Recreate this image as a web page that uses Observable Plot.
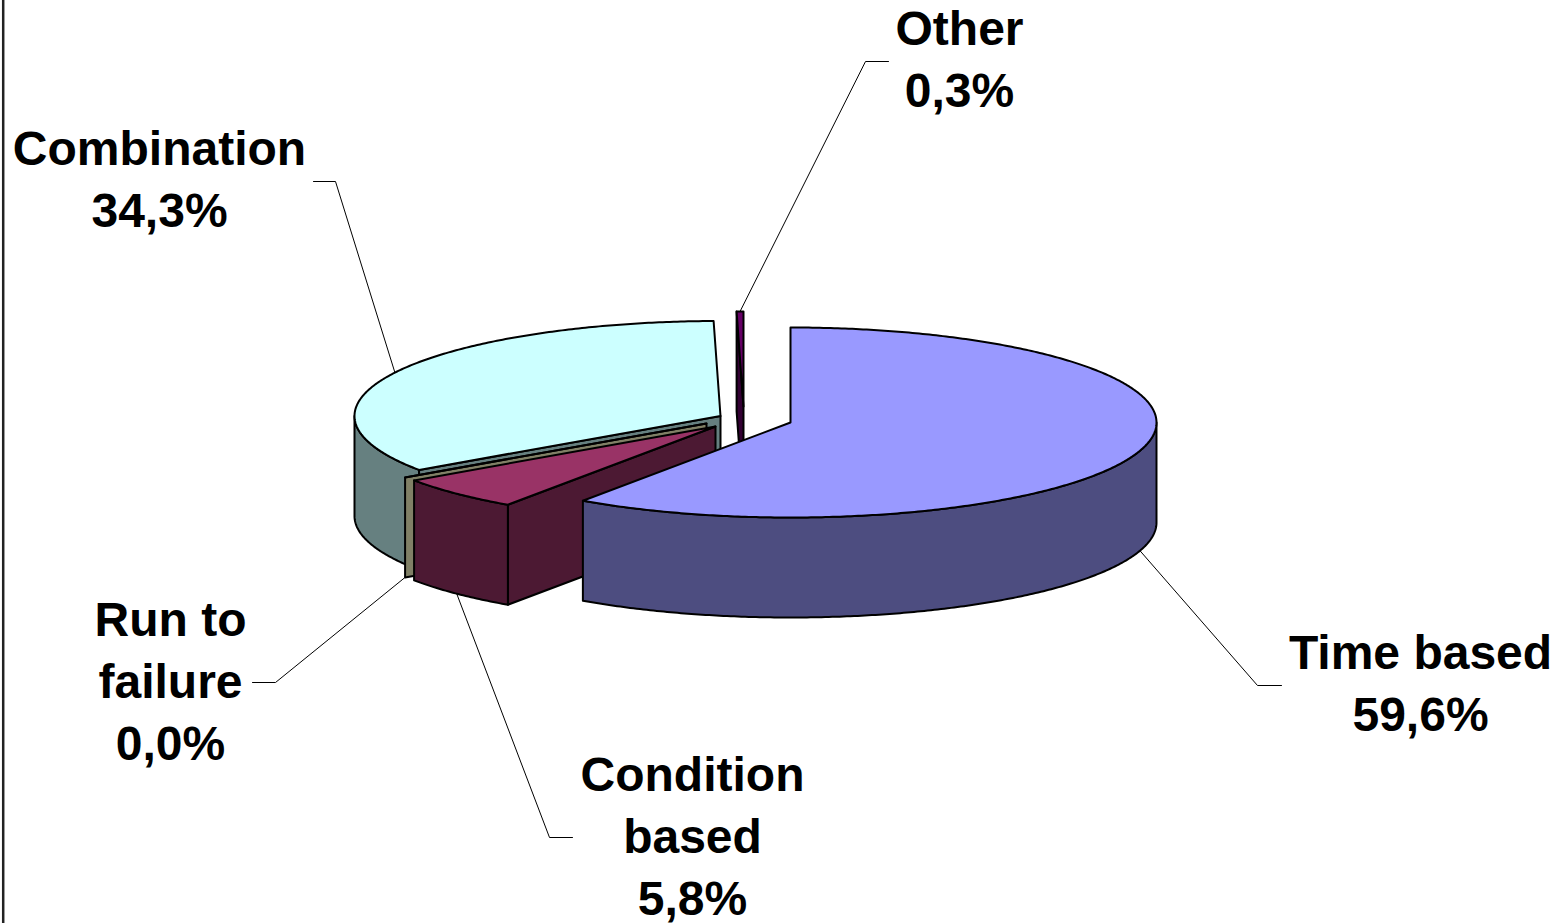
<!DOCTYPE html>
<html>
<head>
<meta charset="utf-8">
<script src="https://cdn.jsdelivr.net/npm/d3@7"></script>
<script src="https://cdn.jsdelivr.net/npm/@observablehq/plot@0.6"></script>
<style>
  html, body { margin: 0; padding: 0; background: #fff; }
  svg { display: block; }
</style>
</head>
<body>
<script>
// Maintenance strategy shares, clockwise from twelve o'clock
const names = ["Time based", "Condition based", "Run to failure", "Combination", "Other"];
const shares = [59.6, 5.8, 0.0, 34.3, 0.3];

// Line breaks used in the slice labels
const labelLines = [["Time based"], ["Condition", "based"], ["Run to", "failure"], ["Combination"], ["Other"]];

// Face colours per slice
const topColors = ["#9999ff", "#993366", "#ffffcc", "#ccffff", "#660066"];
const sideColors = ["#4d4d80", "#4c1933", "#808066", "#668080", "#330033"];

// Pie projection
const rx = 366, ry = 95, depth = 100;

// Centre of each pulled-out slice
const centers = [[790, 422], [715, 426], [706, 423], [720, 415.5], [743, 406]];

// Label centres and leader elbows
const labelAt = [[1420, 680], [692, 833], [170, 678], [159, 176], [959, 56]];
const elbows = [
  [[1257, 685], [1281, 685]],
  [[549, 837], [572, 837]],
  [[275, 682], [252, 682]],
  [[335, 181], [313, 181]],
  [[865, 61], [888, 61]]
];

const slices = [];
let running = 0;
shares.forEach((share, i) => {
  const a0 = (running / 100) * 2 * Math.PI;
  running += share;
  const a1 = (running / 100) * 2 * Math.PI;
  slices.push({i, a0, a1, cx: centers[i][0], cy: centers[i][1]});
});

const rim = (s, a, drop = 0) => ({
  x: s.cx + rx * Math.sin(a),
  y: s.cy - ry * Math.cos(a) + drop
});
const arc = (s, a0, a1, drop = 0) => {
  const n = Math.max(1, Math.ceil(Math.abs(a1 - a0) / 0.01));
  return d3.range(n + 1).map(k => rim(s, a0 + (a1 - a0) * k / n, drop));
};

const face = (points, fill) =>
  Plot.line(points, {x: "x", y: "y", fill, stroke: "#000", strokeWidth: 2, curve: "linear-closed", strokeLinejoin: "round"});

const topFace = s => face([{x: s.cx, y: s.cy}, ...arc(s, s.a0, s.a1)], topColors[s.i]);

// Outer wall: only the part of the rim that faces the viewer
const sideFace = s => {
  const from = Math.max(s.a0, Math.PI / 2), to = Math.min(s.a1, 3 * Math.PI / 2);
  if (to <= from) return null;
  return face([...arc(s, from, to), ...arc(s, to, from, depth)], sideColors[s.i]);
};

// Radial wall standing on the cut at angle a
const cutFace = (s, a) => {
  const p = rim(s, a);
  return face([
    {x: p.x, y: p.y},
    {x: s.cx, y: s.cy},
    {x: s.cx, y: s.cy + depth},
    {x: p.x, y: p.y + depth}
  ], sideColors[s.i]);
};

const [time, condition, runToFailure, combination, other] = slices;

// Where each leader touches its slice
const leaderStart = [
  rim(time, (time.a0 + time.a1) / 2, depth),
  rim(condition, (condition.a0 + condition.a1) / 2, depth),
  rim(runToFailure, runToFailure.a0, depth),
  rim(combination, (combination.a0 + combination.a1) / 2),
  rim(other, (other.a0 + other.a1) / 2)
];

const leaders = elbows.map((e, i) => [leaderStart[i], ...e.map(([x, y]) => ({x, y}))]);

const pct = v => v.toFixed(1).replace(".", ",") + "%";
const labels = names.map((name, i) => ({
  text: [...labelLines[i], pct(shares[i])].join("\n"),
  x: labelAt[i][0],
  y: labelAt[i][1]
}));

const chart = Plot.plot({
  width: 1556,
  height: 923,
  margin: 0,
  style: {background: "#fff"},
  x: {domain: [0, 1556], range: [0, 1556], axis: null},
  y: {domain: [0, 923], range: [0, 923], axis: null},
  marks: [
    // Chart area border
    Plot.ruleX([2.7], {stroke: "#222", strokeWidth: 2.5}),
    ...leaders.map(l => Plot.line(l, {x: "x", y: "y", stroke: "#000", strokeWidth: 1})),
    // Slices, back to front
    sideFace(combination),
    cutFace(combination, combination.a0),
    topFace(combination),
    cutFace(other, other.a0),
    topFace(other),
    cutFace(runToFailure, runToFailure.a0),
    topFace(runToFailure),
    cutFace(condition, condition.a0),
    sideFace(condition),
    topFace(condition),
    sideFace(time),
    topFace(time),
    Plot.text(labels, {
      x: "x",
      y: "y",
      text: "text",
      fontFamily: "Liberation Sans",
      fontWeight: "bold",
      fontSize: 48,
      lineHeight: 62 / 48,
      textAnchor: "middle",
      lineAnchor: "middle",
      fill: "#000"
    })
  ].filter(Boolean)
});
document.body.appendChild(chart);
</script>
</body>
</html>
